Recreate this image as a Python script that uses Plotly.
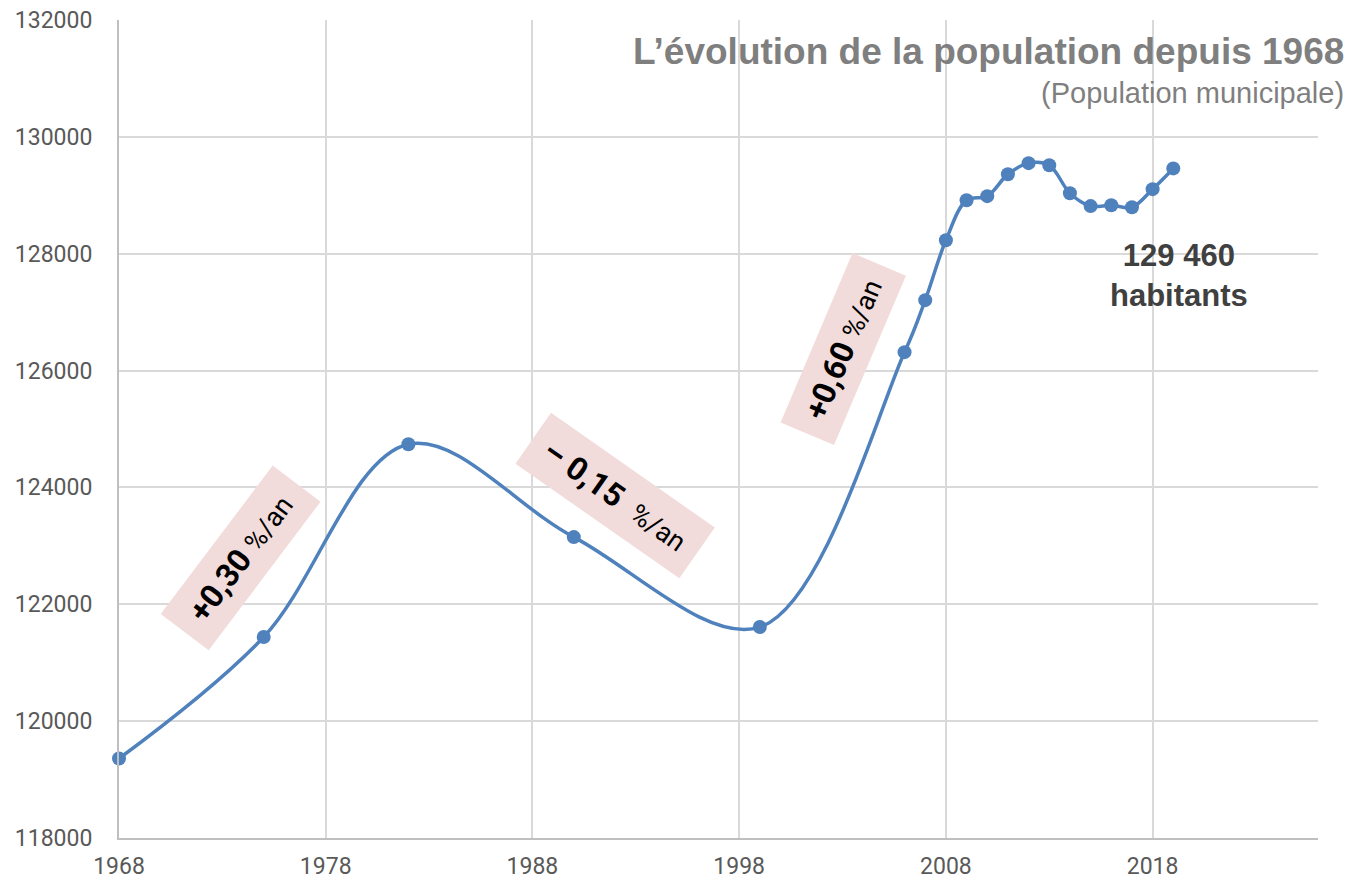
import plotly.graph_objects as go

years = [1968, 1975, 1982, 1990, 1999, 2006, 2007, 2008, 2009, 2010, 2011,
         2012, 2013, 2014, 2015, 2016, 2017, 2018, 2019]
population = [119360, 121440, 124740, 123150, 121610, 126315, 127205, 128230,
              128915, 128985, 129360, 129550, 129515, 129035, 128815, 128830,
              128795, 129105, 129460]

x_ticks = [1968, 1978, 1988, 1998, 2008, 2018]
y_ticks = [118000, 120000, 122000, 124000, 126000, 128000, 130000, 132000]

rate_labels = ["<b>+0,30</b> <span style='font-size:27px'>%/an</span>",
               "<b>– 0,15</b>  <span style='font-size:27px'>%/an</span>",
               "<b>+0,60</b> <span style='font-size:27px'>%/an</span>"]
rate_x = [1973.9, 1992.0, 2003.06]
rate_y = [122800, 123870, 126370]
rate_angle = [-53, 35, -67]
rate_w = [183, 197, 181]
rate_h = [57, 59, 55]

title_text = "L’évolution de la population depuis 1968"
subtitle_text = "(Population municipale)"
last_label = "129 460<br>habitants"

LINE = "#4f81bd"
GRID = "#d9d9d9"
TICK = "#595959"

# the page body adds an 8 px offset; figure pixels = screen pixels - 8
OFF = 8
W, H = 1369 - OFF, 879 - OFF
L, T = 119 - OFF, 20 - OFF
R = W - (1318 - OFF)
B = H - (838 - OFF)
pw, ph = W - L - R, H - T - B

fig = go.Figure()
fig.add_trace(go.Scatter(
    x=years, y=population, mode="lines+markers",
    line=dict(color=LINE, width=3.5, shape="spline", smoothing=1.0),
    marker=dict(color=LINE, size=14),
    cliponaxis=False, showlegend=False, hoverinfo="x+y"))

annotations = []
for t, x, y, a, w, h in zip(rate_labels, rate_x, rate_y, rate_angle, rate_w, rate_h):
    annotations.append(dict(
        x=x, y=y, xref="x", yref="y", text=t, showarrow=False,
        textangle=a, bgcolor="#f2dcdb", width=w, height=h,
        font=dict(family="Roboto", size=32, color="#000000"),
        xanchor="center", yanchor="middle", align="center"))

annotations.append(dict(
    x=(1346 - OFF - L) / pw, y=(H - B - (52 - OFF)) / ph, xref="paper", yref="paper",
    text="<b>" + title_text + "</b>", showarrow=False,
    font=dict(family="Liberation Sans, Arial", size=37, color="#7f7f7f"),
    xanchor="right", yanchor="middle"))
annotations.append(dict(
    x=(1346 - OFF - L) / pw, y=(H - B - (93 - OFF)) / ph, xref="paper", yref="paper",
    text=subtitle_text, showarrow=False,
    font=dict(family="Liberation Sans, Arial", size=29, color="#7f7f7f"),
    xanchor="right", yanchor="middle"))
annotations.append(dict(
    x=2019.3, y=127633, xref="x", yref="y", text="<b>" + last_label + "</b>",
    showarrow=False,
    font=dict(family="Liberation Sans, Arial", size=31, color="#404040"),
    xanchor="center", yanchor="middle", align="center"))

fig.update_layout(
    width=W, height=H,
    margin=dict(l=L, r=R, t=T, b=B, autoexpand=False),
    paper_bgcolor="white", plot_bgcolor="white",
    annotations=annotations,
    xaxis=dict(range=[1968, 2026], tickvals=x_ticks, showgrid=True,
               gridcolor=GRID, gridwidth=1.5, zeroline=False,
               showline=True, linecolor="#bfbfbf", linewidth=2,
               ticks="", tickfont=dict(family="Roboto", size=23, color=TICK),
               ticklabelstandoff=6, ticklabeloverflow="allow", automargin=False),
    yaxis=dict(range=[118000, 132000], tickvals=y_ticks, tickformat="d",
               showgrid=True, gridcolor=GRID, gridwidth=1.5, zeroline=False,
               showline=True, linecolor="#bfbfbf", linewidth=2,
               ticks="", tickfont=dict(family="Roboto", size=23, color=TICK),
               ticklabelstandoff=20, ticklabeloverflow="allow", automargin=False),
)

fig.write_html("out.html")
